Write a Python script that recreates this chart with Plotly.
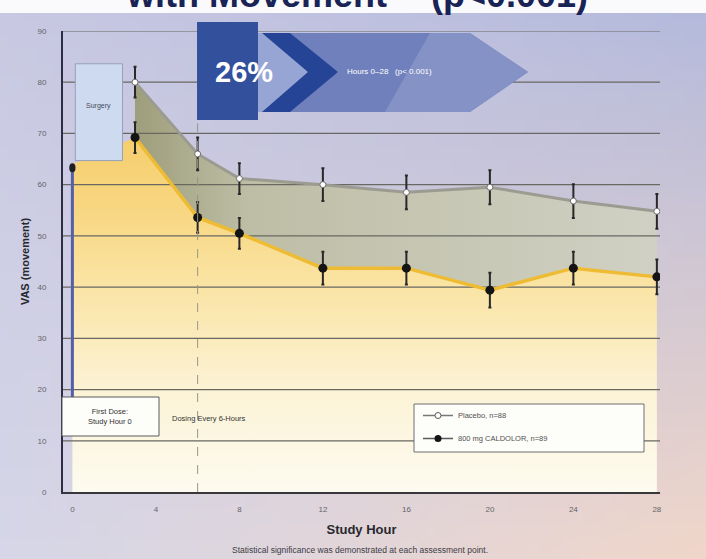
import base64, struct, zlib
import plotly.graph_objects as go

# ---------------- data ----------------
hours = [3, 6, 8, 12, 16, 20, 24, 28]
placebo = [80.0, 66.0, 61.2, 60.0, 58.5, 59.5, 56.8, 54.8]
placebo_err = [3.0, 3.2, 3.0, 3.2, 3.3, 3.3, 3.3, 3.4]
caldolor = [69.2, 53.6, 50.5, 43.7, 43.7, 39.4, 43.7, 42.0]
caldolor_err = [3.0, 3.0, 3.0, 3.2, 3.2, 3.4, 3.2, 3.4]
baseline_hour = [0]
baseline_vas = [64.0]
x_ticks = [0, 4, 8, 12, 16, 20, 24, 28]
y_ticks = [0, 10, 20, 30, 40, 50, 60, 70, 80, 90]
placebo_name = "Placebo, n=88"
caldolor_name = "800 mg CALDOLOR, n=89"

# ---------------- layout geometry (pixels) ----------------
W, H = 706, 559
PL, PR, PT, PB = 63, 660, 31, 492
XR = [-0.45, 28.15]
YR = [0, 90]
FONT = "Liberation Sans, Arial"


def px_x(px):
    return (px - PL) / (PR - PL)


def px_y(py):
    return (PB - py) / (PB - PT)


# ---------------- page gradient background (generated PNG) ----------------
def gradient_uri(w, h, tl, tr, bl, br):
    rows = []
    for j in range(h):
        v = j / (h - 1)
        row = bytearray([0])
        for i in range(w):
            u = i / (w - 1)
            for c in range(3):
                top = tl[c] * (1 - u) + tr[c] * u
                bot = bl[c] * (1 - u) + br[c] * u
                row.append(int(round(top * (1 - v) + bot * v)))
        rows.append(bytes(row))
    raw = b"".join(rows)

    def chunk(tag, data):
        return (struct.pack(">I", len(data)) + tag + data +
                struct.pack(">I", zlib.crc32(tag + data) & 0xffffffff))

    png = (b"\x89PNG\r\n\x1a\n" +
           chunk(b"IHDR", struct.pack(">IIBBBBB", w, h, 8, 2, 0, 0, 0)) +
           chunk(b"IDAT", zlib.compress(raw)) + chunk(b"IEND", b""))
    return "data:image/png;base64," + base64.b64encode(png).decode()


bg_uri = gradient_uri(48, 40, (200, 200, 226), (180, 186, 220),
                      (214, 214, 232), (240, 214, 202))

fig = go.Figure()

# yellow area under CALDOLOR curve
fig.add_trace(go.Scatter(
    x=baseline_hour + hours, y=baseline_vas + caldolor,
    mode="lines", line=dict(width=0), fill="tozeroy",
    fillgradient=dict(type="vertical", start=0, stop=70, colorscale=[
        [0.0, "rgb(253,251,240)"], [0.28, "rgb(252,243,214)"],
        [0.57, "rgb(250,228,165)"], [0.8, "rgb(248,214,128)"],
        [1.0, "rgb(245,205,108)"]]),
    hoverinfo="skip", showlegend=False))

# grey band between the two curves
fig.add_trace(go.Scatter(
    x=hours + hours[::-1], y=placebo + caldolor[::-1],
    mode="lines", line=dict(width=0), fill="toself",
    fillgradient=dict(type="horizontal", start=3, stop=28, colorscale=[
        [0.0, "rgb(158,158,124)"], [0.22, "rgb(190,190,166)"],
        [1.0, "rgb(208,208,196)"]]),
    hoverinfo="skip", showlegend=False))

# horizontal grid lines (drawn over the fills, under the series)
gx, gy = [], []
for t in y_ticks[1:]:
    gx += [XR[0], XR[1], None]
    gy += [t, t, None]
fig.add_trace(go.Scatter(x=gx, y=gy, mode="lines",
                         line=dict(color="rgb(105,105,98)", width=1.2),
                         hoverinfo="skip", showlegend=False))

# CALDOLOR series
fig.add_trace(go.Scatter(
    x=hours, y=caldolor, mode="lines+markers",
    line=dict(color="rgb(238,188,52)", width=3.5),
    marker=dict(color="rgb(20,20,20)", size=9),
    error_y=dict(type="data", array=caldolor_err, color="rgb(40,40,40)",
                 thickness=2, width=1.5),
    showlegend=False))

# Placebo series
fig.add_trace(go.Scatter(
    x=hours, y=placebo, mode="lines+markers",
    line=dict(color="rgb(155,155,145)", width=3),
    marker=dict(color="white", size=6, line=dict(color="rgb(110,110,110)", width=1)),
    error_y=dict(type="data", array=placebo_err, color="rgb(40,40,40)",
                 thickness=2, width=1.5),
    showlegend=False))

# legend entries
fig.add_trace(go.Scatter(
    x=[None], y=[None], mode="lines+markers", name=placebo_name,
    line=dict(color="rgb(120,120,120)", width=1.5),
    marker=dict(color="white", size=6, line=dict(color="rgb(90,90,90)", width=1)),
    legendgroup="a"))
fig.add_trace(go.Scatter(
    x=[None], y=[None], mode="lines+markers", name=caldolor_name,
    line=dict(color="rgb(90,90,90)", width=1.5),
    marker=dict(color="rgb(20,20,20)", size=7),
    legendgroup="b"))

shapes = []
# white band at the very top
shapes.append(dict(type="rect", xref="paper", yref="paper", layer="below",
                   x0=px_x(0), x1=px_x(W), y0=px_y(0), y1=px_y(13),
                   fillcolor="rgb(250,250,252)", line=dict(width=0)))
# dashed dosing line at hour 6
shapes.append(dict(type="line", xref="x", yref="y", x0=6, x1=6, y0=0, y1=72,
                   line=dict(color="rgb(150,150,135)", width=1, dash="dash"),
                   layer="above"))
# first dose blue line
shapes.append(dict(type="line", xref="x", yref="y", x0=0, x1=0, y0=18, y1=63.3,
                   line=dict(color="rgb(85,95,165)", width=3), layer="above"))
shapes.append(dict(type="circle", xref="x", yref="y", x0=-0.15, x1=0.15,
                   y0=62.4, y1=64.2, fillcolor="rgb(30,30,40)",
                   line=dict(width=0), layer="above"))
# surgery box
shapes.append(dict(type="rect", xref="x", yref="y", x0=0.14, x1=2.4,
                   y0=64.7, y1=83.6, fillcolor="rgb(205,218,240)",
                   line=dict(color="rgb(150,160,185)", width=1), layer="above"))
# first dose box
shapes.append(dict(type="rect", xref="paper", yref="paper",
                   x0=px_x(62), x1=px_x(159), y0=px_y(436), y1=px_y(397),
                   fillcolor="rgb(253,253,250)",
                   line=dict(color="rgb(90,90,90)", width=1), layer="above"))
# legend box
shapes.append(dict(type="rect", xref="paper", yref="paper",
                   x0=px_x(414), x1=px_x(644), y0=px_y(452), y1=px_y(404),
                   fillcolor="rgb(253,253,250)",
                   line=dict(color="rgb(110,110,110)", width=1), layer="above"))


def poly(points):
    parts = []
    for k, (a, b) in enumerate(points):
        parts.append(("M" if k == 0 else "L") + f"{px_x(a):.4f},{px_y(b):.4f}")
    return " ".join(parts) + " Z"


# banner arrow
shapes.append(dict(type="path", xref="paper", yref="paper", layer="above",
                   path=poly([(240, 33), (470, 33), (528, 72), (470, 112), (240, 112)]),
                   fillcolor="rgb(112,128,188)", line=dict(width=0)))
shapes.append(dict(type="path", xref="paper", yref="paper", layer="above",
                   path=poly([(385, 112), (430, 33), (470, 33), (528, 72), (470, 112)]),
                   fillcolor="rgb(132,146,198)", line=dict(width=0)))
shapes.append(dict(type="path", xref="paper", yref="paper", layer="above",
                   path=poly([(240, 33), (265, 33), (308, 72), (265, 112), (240, 112)]),
                   fillcolor="rgb(150,165,212)", line=dict(width=0)))
shapes.append(dict(type="path", xref="paper", yref="paper", layer="above",
                   path=poly([(197, 22), (258, 22), (258, 120), (197, 120)]),
                   fillcolor="rgb(50,80,155)", line=dict(width=0)))
shapes.append(dict(type="path", xref="paper", yref="paper", layer="above",
                   path=poly([(262, 33), (290, 33), (338, 72), (290, 112), (262, 112), (308, 72)]),
                   fillcolor="rgb(38,68,150)", line=dict(width=0)))

NB = "\u00a0"


def note(text, px, py, size, color, xanchor="center", yanchor="middle", **kw):
    return dict(text=text, xref="paper", yref="paper", x=px_x(px), y=px_y(py),
                xanchor=xanchor, yanchor=yanchor, showarrow=False, align="center",
                font=dict(size=size, color=color, family=FONT), **kw)


annotations = [
    note("<b>with Movement*" + NB * 3 + "(p<0.001)</b>", 357, 17, 36,
         "rgb(25,35,85)", yanchor="bottom"),
    note("<b>26%</b>", 244, 72, 29, "white"),
    note("Hours 0–28" + NB * 3 + "(p< 0.001)", 345, 72, 8, "white", xanchor="left"),
    note("Surgery", 98, 106, 7, "rgb(70,75,95)"),
    note("First Dose:<br>Study Hour 0", 110, 416, 7.5, "rgb(50,50,50)"),
    note("Dosing Every 6-Hours", 170, 418, 7.5, "rgb(50,50,50)", xanchor="left"),
    note("Statistical significance was demonstrated at each assessment point.",
         360, 550, 8.5, "rgb(60,60,70)"),
]

fig.update_layout(
    width=W, height=H,
    margin=dict(l=PL, r=W - PR, t=PT, b=H - PB, pad=0),
    paper_bgcolor="rgb(205,205,228)",
    plot_bgcolor="rgba(0,0,0,0)",
    font=dict(family=FONT, color="rgb(60,60,60)"),
    images=[dict(source=bg_uri, xref="paper", yref="paper",
                 x=px_x(0), y=px_y(0), sizex=W / (PR - PL), sizey=H / (PB - PT),
                 xanchor="left", yanchor="top", sizing="stretch", layer="below")],
    shapes=shapes,
    annotations=annotations,
    showlegend=True,
    legend=dict(x=px_x(418), y=px_y(401), xanchor="left", yanchor="top",
                bgcolor="rgba(0,0,0,0)", borderwidth=0,
                font=dict(size=7.5, color="rgb(80,80,80)"),
                traceorder="grouped", tracegroupgap=4),
    xaxis=dict(range=XR, tickvals=x_ticks, ticktext=[str(v) for v in x_ticks],
               showgrid=False, zeroline=False, showline=True,
               linecolor="rgb(55,55,60)", linewidth=2,
               tickfont=dict(size=8, color="rgb(100,100,105)"),
               ticklabelstandoff=8,
               title=dict(text="<b>Study Hour</b>", standoff=12,
                          font=dict(size=13, color="rgb(40,40,45)"))),
    yaxis=dict(range=YR, tickvals=y_ticks, showgrid=False, zeroline=False,
               showline=True, linecolor="rgb(45,45,70)", linewidth=2,
               tickfont=dict(size=8, color="rgb(100,100,105)"),
               ticklabelstandoff=13,
               title=dict(text="<b>VAS (movement)</b>", standoff=6,
                          font=dict(size=11, color="rgb(40,40,45)"))),
)

fig.write_html("out.html", config={"displayModeBar": False},
               post_script="document.body.style.margin='0px';")
